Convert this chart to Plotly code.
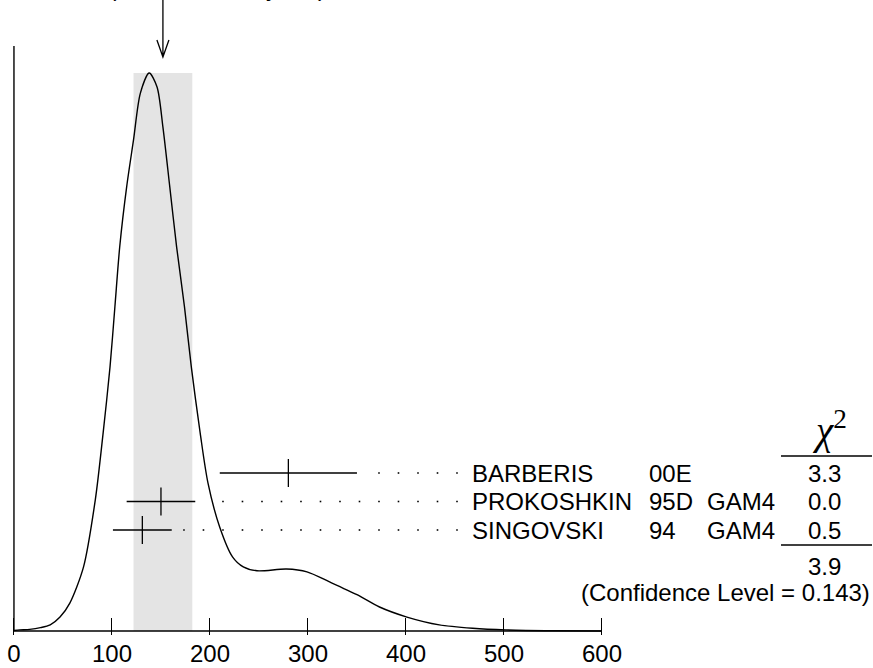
import plotly.graph_objects as go

# ---------------- data ----------------
# ideogram curve (x in MeV-like units, relative height, peak = 1)
curve_x = [0, 6, 16, 27, 37, 47, 57, 71, 83, 91, 98, 103, 108, 115, 122, 129, 138, 146, 152,
           159, 166, 174, 181, 190, 198, 210, 223, 234, 248, 278, 299, 322, 350,
           373, 401, 434, 468, 502, 550, 600]
curve_y = [0.001, 0.002, 0.003, 0.006, 0.011, 0.025, 0.050, 0.115, 0.235, 0.355, 0.473,
           0.581, 0.690, 0.796, 0.880, 0.964, 1.000, 0.975, 0.903, 0.796, 0.688, 0.581,
           0.473, 0.355, 0.265, 0.186, 0.133, 0.115, 0.108, 0.111, 0.106, 0.088, 0.065,
           0.043, 0.025, 0.011, 0.005, 0.002, 0.0005, 0.0]

names = ["BARBERIS", "PROKOSHKIN", "SINGOVSKI"]
years = ["00E", "95D", "94"]
techs = ["", "GAM4", "GAM4"]
values = [280, 150, 131]
errors = [70, 35, 30]
chi2 = ["3.3", "0.0", "0.5"]
chi2_total = "3.9"
conf_level = "0.143"
avg = 152
avg_err = 30
err_scale = "1.4"
tick_vals = [0, 100, 200, 300, 400, 500, 600]
tick_text = ["0", "100", "200", "300", "400", "500", "600"]

# ---------------- layout helpers (pixel geometry) ----------------
W, H = 873, 668
ML = 12
PXU = 0.98               # pixels per x unit
X0 = -2                  # x range start
PLOT_W = W - ML
AXIS_PX = 631            # pixel row of the x axis
PEAK_H = 558             # pixel height of curve peak
PLOT_BOTTOM = 635
MB = H - PLOT_BOTTOM

def xd(px):
    return (px - ML) / PXU + X0

def yd(py):
    return (AXIS_PX - py) / PEAK_H

FONT = "Liberation Sans, Arial, Helvetica, sans-serif"
FS = 24

row_px = [473, 501.5, 530]
row_y = [yd(p) for p in row_px]

fig = go.Figure()

# shaded band for the weighted average
fig.add_shape(type="rect", xref="x", yref="y", x0=avg - avg_err, x1=avg + avg_err,
              y0=0, y1=max(curve_y), fillcolor="#e4e4e4", line_width=0, layer="below")

# ideogram curve
fig.add_trace(go.Scatter(x=curve_x, y=curve_y, mode="lines",
                         line=dict(color="black", width=1.4, shape="spline", smoothing=0.8),
                         hoverinfo="skip"))

# dotted leader lines
dot_end = xd(457)
dot_step = 19.9
for v, e, ry in zip(values, errors, row_y):
    xs = []
    k = 0
    while True:
        xv = dot_end - dot_step * k
        if xv <= v + e + 10:
            break
        xs.append(xv)
        k += 1
    fig.add_trace(go.Scatter(x=xs, y=[ry] * len(xs), mode="markers",
                             marker=dict(symbol="square", size=1.6, color="black"),
                             hoverinfo="skip"))

# measurements with error bars
fig.add_trace(go.Scatter(x=values, y=row_y, mode="markers",
                         marker=dict(symbol="line-ns-open", size=20, color="black",
                                     line=dict(color="black", width=1.3)),
                         error_x=dict(type="data", array=errors, width=0,
                                      thickness=1.3, color="black"),
                         hoverinfo="skip"))

# axes lines
fig.add_shape(type="line", xref="x", yref="y", x0=0, x1=600, y0=0, y1=0,
              line=dict(color="black", width=1.4))
fig.add_shape(type="line", xref="x", yref="y", x0=0, x1=0, y0=0, y1=yd(46),
              line=dict(color="black", width=1.4))

# arrow marking the average
ax = avg
tip = yd(57)
tail = yd(-2)
arm = yd(40)
dx = 6 / PXU
fig.add_shape(type="path", xref="x", yref="y",
              path=f"M {ax},{tail} L {ax},{tip} M {ax-dx},{arm} L {ax},{tip} L {ax+dx},{arm}",
              line=dict(color="black", width=1.3))

ann = []
def txt(x, y, s, xanchor="left", size=FS, family=FONT):
    ann.append(dict(x=x, y=y, xref="x", yref="y", text=s, showarrow=False,
                    xanchor=xanchor, yanchor="middle",
                    font=dict(family=family, size=size, color="black")))

for i in range(3):
    txt(xd(470), row_y[i], names[i])
    txt(xd(647), row_y[i], years[i])
    if techs[i]:
        txt(xd(705), row_y[i], techs[i])
    txt(xd(824), row_y[i], chi2[i], xanchor="center")

txt(xd(824), yd(566), chi2_total, xanchor="center")
txt(xd(872), yd(592), f"(Confidence Level = {conf_level})", xanchor="right")
txt(xd(829), yd(428), "<i>χ</i><sup>2</sup>", xanchor="center", size=39,
    family="Liberation Serif, Times New Roman, serif")

fig.add_shape(type="line", xref="x", yref="y", x0=xd(781), x1=xd(872), y0=yd(456), y1=yd(456),
              line=dict(color="black", width=1.3))
fig.add_shape(type="line", xref="x", yref="y", x0=xd(781), x1=xd(872), y0=yd(545), y1=yd(545),
              line=dict(color="black", width=1.3))

# title lines (mostly cut off at the top of the picture, as in the reference)
ann.append(dict(x=xd(20), y=yd(3.5), xref="x", yref="y",
                text=f"WEIGHTED AVERAGE<br>{avg}±{avg_err} (Error scaled by {err_scale})",
                showarrow=False, xanchor="left", yanchor="bottom", align="left",
                font=dict(family=FONT, size=FS, color="black")))

fig.update_layout(
    width=W, height=H,
    margin=dict(l=ML, r=0, t=0, b=MB, pad=0),
    paper_bgcolor="white", plot_bgcolor="white",
    showlegend=False,
    annotations=ann,
    xaxis=dict(range=[X0, X0 + PLOT_W / PXU], showgrid=False, zeroline=False,
               showline=False, tickmode="array", tickvals=tick_vals, ticktext=tick_text,
               ticks="inside", ticklen=17, tickwidth=1.3, tickcolor="black",
               tickfont=dict(family=FONT, size=FS, color="black"), ticklabelstandoff=2),
    yaxis=dict(range=[yd(PLOT_BOTTOM), yd(0)], showgrid=False, zeroline=False,
               showline=False, showticklabels=False, ticks=""),
)

fig.write_html("out.html", config={"displayModeBar": False},
               post_script="document.body.style.margin='0';document.body.style.padding='0';")
